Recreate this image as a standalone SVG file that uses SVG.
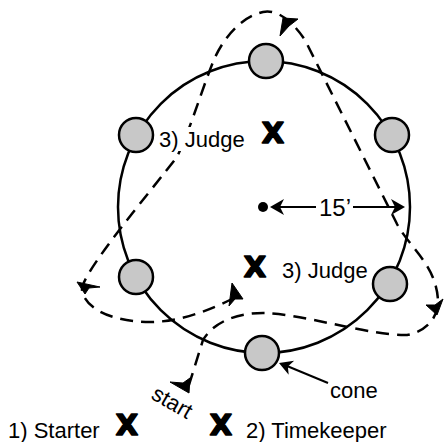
<svg xmlns="http://www.w3.org/2000/svg" xmlns:xlink="http://www.w3.org/1999/xlink" width="445" height="442" viewBox="0 0 445 442">
<style>
.ring{fill:none;stroke:#000;stroke-width:2.5}
.cone{fill:#c8c8c8;stroke:#000;stroke-width:2.5}
.route{fill:none;stroke:#000;stroke-width:2.5;stroke-dasharray:13 8}
.head{fill:#000;stroke:#000;stroke-width:1;stroke-linejoin:miter}
.lbl{font-family:"Liberation Sans",Arial,sans-serif;font-size:22px;fill:#000}
.dim{font-size:24px}
.mark{font-family:"DejaVu Sans",sans-serif;font-weight:bold;font-size:29px;fill:#000;stroke:#000;stroke-width:1.6;stroke-linejoin:round;text-anchor:middle}
.thin{fill:none;stroke:#000;stroke-width:2}
</style>
<defs>
<path id="ah" d="M0,0 L-14,-8 L-10,0 L-14,8 Z" fill="#000"/>
</defs>
<rect width="445" height="442" fill="#fff"/>
<circle class="ring" cx="264" cy="207" r="146"/>
<g id="connectors">
<path class="route" d="M234,298 C210,310 180,322 150,322 C115,322 85,310 82,290 C80,275 150,192 177,157 C190,130 200,95 213,62 C222,40 240,17 263,12 C278,9 293,22 305,40 L397,224 C410,248 436,265 438,300 C439,318 425,332 407,335 C370,336 300,313 263,313 C240,313 215,320 203,340 L188,388"/>
<polygon class="head" points="283,18 298,19 289,26 280,36"/>
<polygon class="head" points="437,315 426,305 435,305 443,299"/>
<polygon class="head" points="77,282 100,287 89,288 85,294"/>
<polygon class="head" points="232,283 243,299 235,299 229,306"/>
<polygon class="head" points="189,393 170,382 183,383 190,378"/>
<line class="thin" x1="328" y1="383" x2="287" y2="366"/>
<use xlink:href="#ah" transform="translate(279,363) rotate(-159) scale(0.95)"/>
</g>
<g id="cone-top"><circle class="cone" cx="266" cy="61" r="17"/></g>
<g id="cone-upper-left"><circle class="cone" cx="136" cy="135" r="17"/></g>
<g id="cone-upper-right"><circle class="cone" cx="392" cy="135" r="17"/></g>
<g id="cone-lower-left"><circle class="cone" cx="136" cy="277" r="17"/></g>
<g id="cone-lower-right"><circle class="cone" cx="390" cy="284" r="17"/></g>
<g id="cone-bottom"><circle class="cone" cx="262" cy="353" r="17"/></g>
<g id="radius">
<circle cx="263" cy="207" r="5" fill="#000"/>
<line class="thin" x1="280" y1="207" x2="316" y2="207"/>
<line class="thin" x1="353" y1="207" x2="395" y2="207"/>
<use xlink:href="#ah" transform="translate(270,207) rotate(180)"/>
<use xlink:href="#ah" transform="translate(405,207)"/>
<text class="lbl dim" x="319" y="216">15’</text>
</g>
<g id="judge-upper">
<rect x="157" y="127" width="90" height="24" fill="#fff"/>
<text class="lbl" x="159" y="147">3) Judge</text>
<text class="mark" x="273" y="143">X</text>
</g>
<g id="judge-lower">
<text class="mark" x="255" y="277">X</text>
<text class="lbl" x="282" y="278">3) Judge</text>
</g>
<g id="starter">
<text class="lbl" x="8" y="438">1) Starter</text>
<text class="mark" x="127" y="435">X</text>
</g>
<g id="timekeeper">
<text class="mark" x="221" y="435">X</text>
<text class="lbl" x="246" y="438">2) Timekeeper</text>
</g>
<g id="cone-label"><text class="lbl" x="330" y="398">cone</text></g>
<g id="start-label"><text class="lbl" transform="translate(150,398) rotate(30)">start</text></g>
</svg>
